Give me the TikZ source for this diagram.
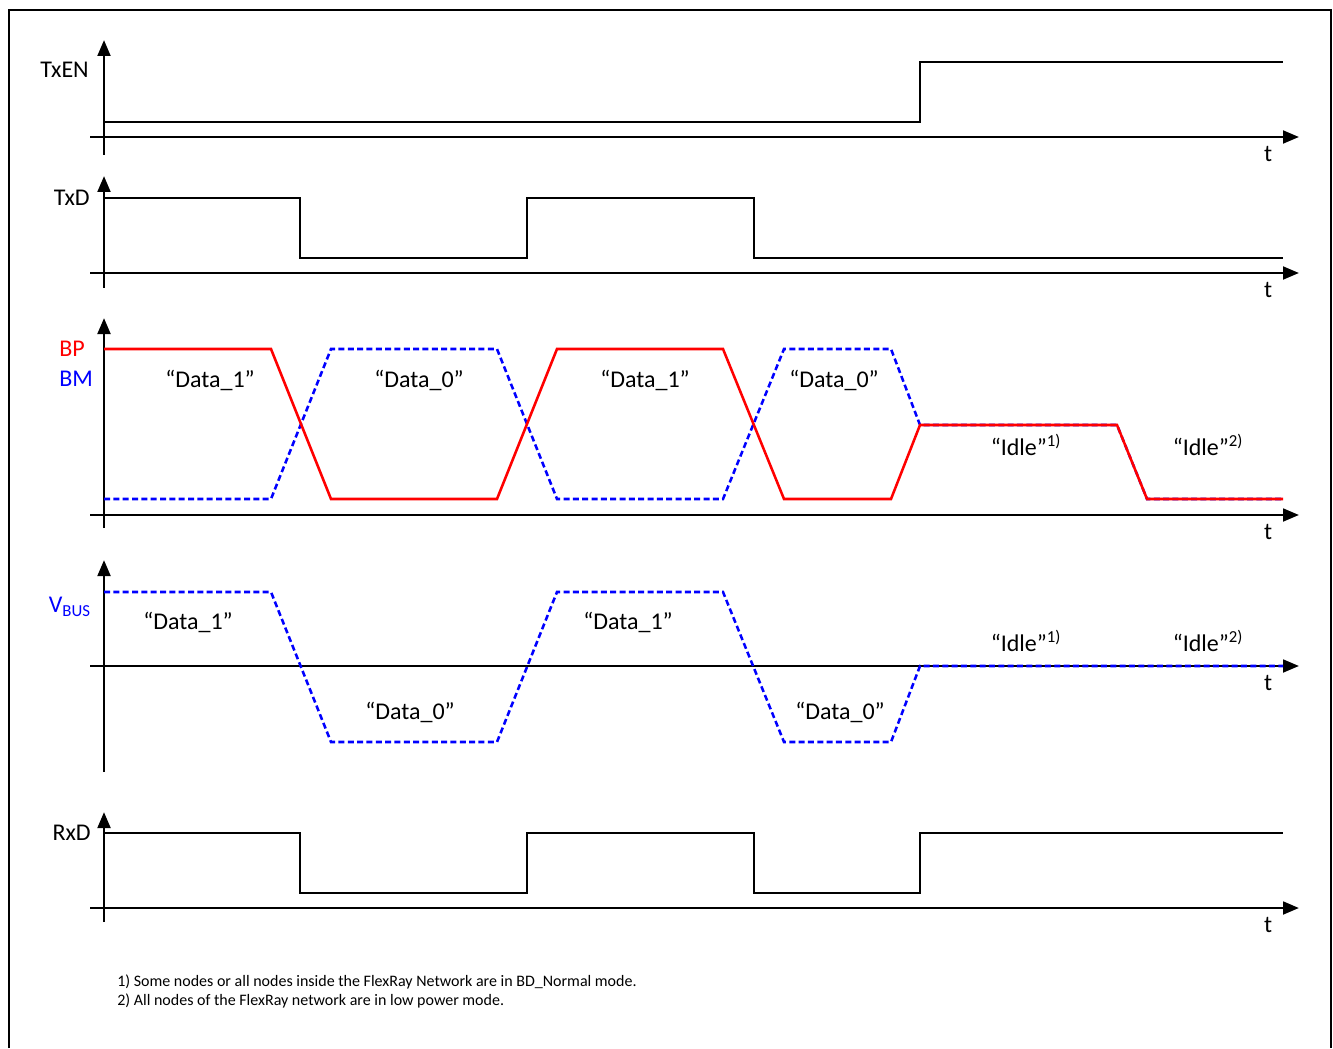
\documentclass[tikz,border=0pt]{standalone}
\usepackage{fontspec}
\setmainfont{Carlito}
\usetikzlibrary{arrows.meta}

\begin{document}
\begin{tikzpicture}[
    x=0.75pt, y=-0.75pt,
    font=\fontsize{18}{20}\selectfont,
    >={Triangle[length=12pt,width=9.5pt]},
    % Styles
    frame/.style={draw=black, line width=1.5pt},
    axis/.style={->, line width=2.1pt},
    sig/.style={line width=1.9pt},
    bp/.style={line width=1.9pt, draw=red},
    bm/.style={line width=1.9pt, draw=blue, dash pattern=on 4.5pt off 2.5pt},
    ylabel/.style={anchor=east, inner sep=0pt},
    tlabel/.style={inner sep=0pt},
    state/.style={inner sep=0pt},
    note/.style={anchor=west, inner sep=0pt, font=\fontsize{12}{14}\selectfont}
]
\useasboundingbox (0,0) rectangle (1333,1048);

% --- Frame (open at the bottom) ---
\coordinate (fr_bl) at (9,1048);
\coordinate (fr_tr) at (1331,10);
\coordinate (fr_br) at (1331,1048);
\draw[frame] (fr_bl) |- (fr_tr) -- (fr_br);

% --- Axes ---
\foreach \nm/\ytop/\ybot/\yax in {txen/40/155/137, txd/176/288/273, bus/318/528/515, vbus/560/772/666, rxd/812/922/908}{
    \coordinate (\nm_o1) at (104,\ybot);
    \coordinate (\nm_y) at (104,\ytop);
    \coordinate (\nm_o2) at (90,\yax);
    \coordinate (\nm_x) at (1299,\yax);
    \draw[axis] (\nm_o1) -- (\nm_y);
    \draw[axis] (\nm_o2) -- (\nm_x);
    \node[tlabel] (\nm_t) at (1268,\yax+17) {t};
}

% --- Axis labels ---
\node[ylabel] (txen_lbl) at (89,70) {TxEN};
\node[ylabel] (txd_lbl) at (90,198) {TxD};
\node[anchor=west, inner sep=0pt, text=red] (bp_lbl) at (59,349) {BP};
\node[anchor=west, inner sep=0pt, text=blue] (bm_lbl) at (59,379) {BM};
\node[ylabel, text=blue] (vbus_lbl) at (91,607) {V\textsubscript{BUS}};
\node[ylabel] (rxd_lbl) at (91,833) {RxD};

% --- TxEN / TxD ---
\draw[sig] (104,122) -- (920,122) -- (920,62) -- (1283,62);
\draw[sig] (104,198) -| (300,258) -| (527,198) -| (754,258) -- (1283,258);

% --- BP / BM ---
\draw[bm] (104,499) -- (271,499) -- (331,349) -- (497,349) -- (557,499) -- (723,499)
    -- (784,349) -- (891,349) -- (920,425) -- (1117,425) -- (1147,499) -- (1283,499);
\draw[bp] (104,349) -- (271,349) -- (331,499) -- (497,499) -- (557,349) -- (723,349)
    -- (784,499) -- (891,499) -- (920,425) -- (1117,425) -- (1147,499) -- (1283,499);

\node[state] (bus_d1a) at (210,380) {“Data\_1”};
\node[state] (bus_d0a) at (419,380) {“Data\_0”};
\node[state] (bus_d1b) at (645,380) {“Data\_1”};
\node[state] (bus_d0b) at (834,380) {“Data\_0”};
\node[state] (bus_idle1) at (1026,445) {“Idle”\textsuperscript{1)}};
\node[state] (bus_idle2) at (1208,445) {“Idle”\textsuperscript{2)}};

% --- VBUS ---
\draw[bm] (104,592) -- (271,592) -- (331,742) -- (497,742) -- (557,592) -- (723,592)
    -- (784,742) -- (891,742) -- (920,666) -- (1283,666);

\node[state] (vbus_d1a) at (188,622) {“Data\_1”};
\node[state] (vbus_d0a) at (410,712) {“Data\_0”};
\node[state] (vbus_d1b) at (628,622) {“Data\_1”};
\node[state] (vbus_d0b) at (840,712) {“Data\_0”};
\node[state] (vbus_idle1) at (1026,641) {“Idle”\textsuperscript{1)}};
\node[state] (vbus_idle2) at (1208,641) {“Idle”\textsuperscript{2)}};

% --- RxD ---
\draw[sig] (104,833) -| (300,893) -| (527,833) -| (754,893) -| (920,833) -- (1283,833);

% --- Notes ---
\node[note] (note1) at (117,982) {1) Some nodes or all nodes inside the FlexRay Network are in BD\_Normal mode.};
\node[note] (note2) at (117,1001) {2) All nodes of the FlexRay network are in low power mode.};

\end{tikzpicture}
\end{document}
